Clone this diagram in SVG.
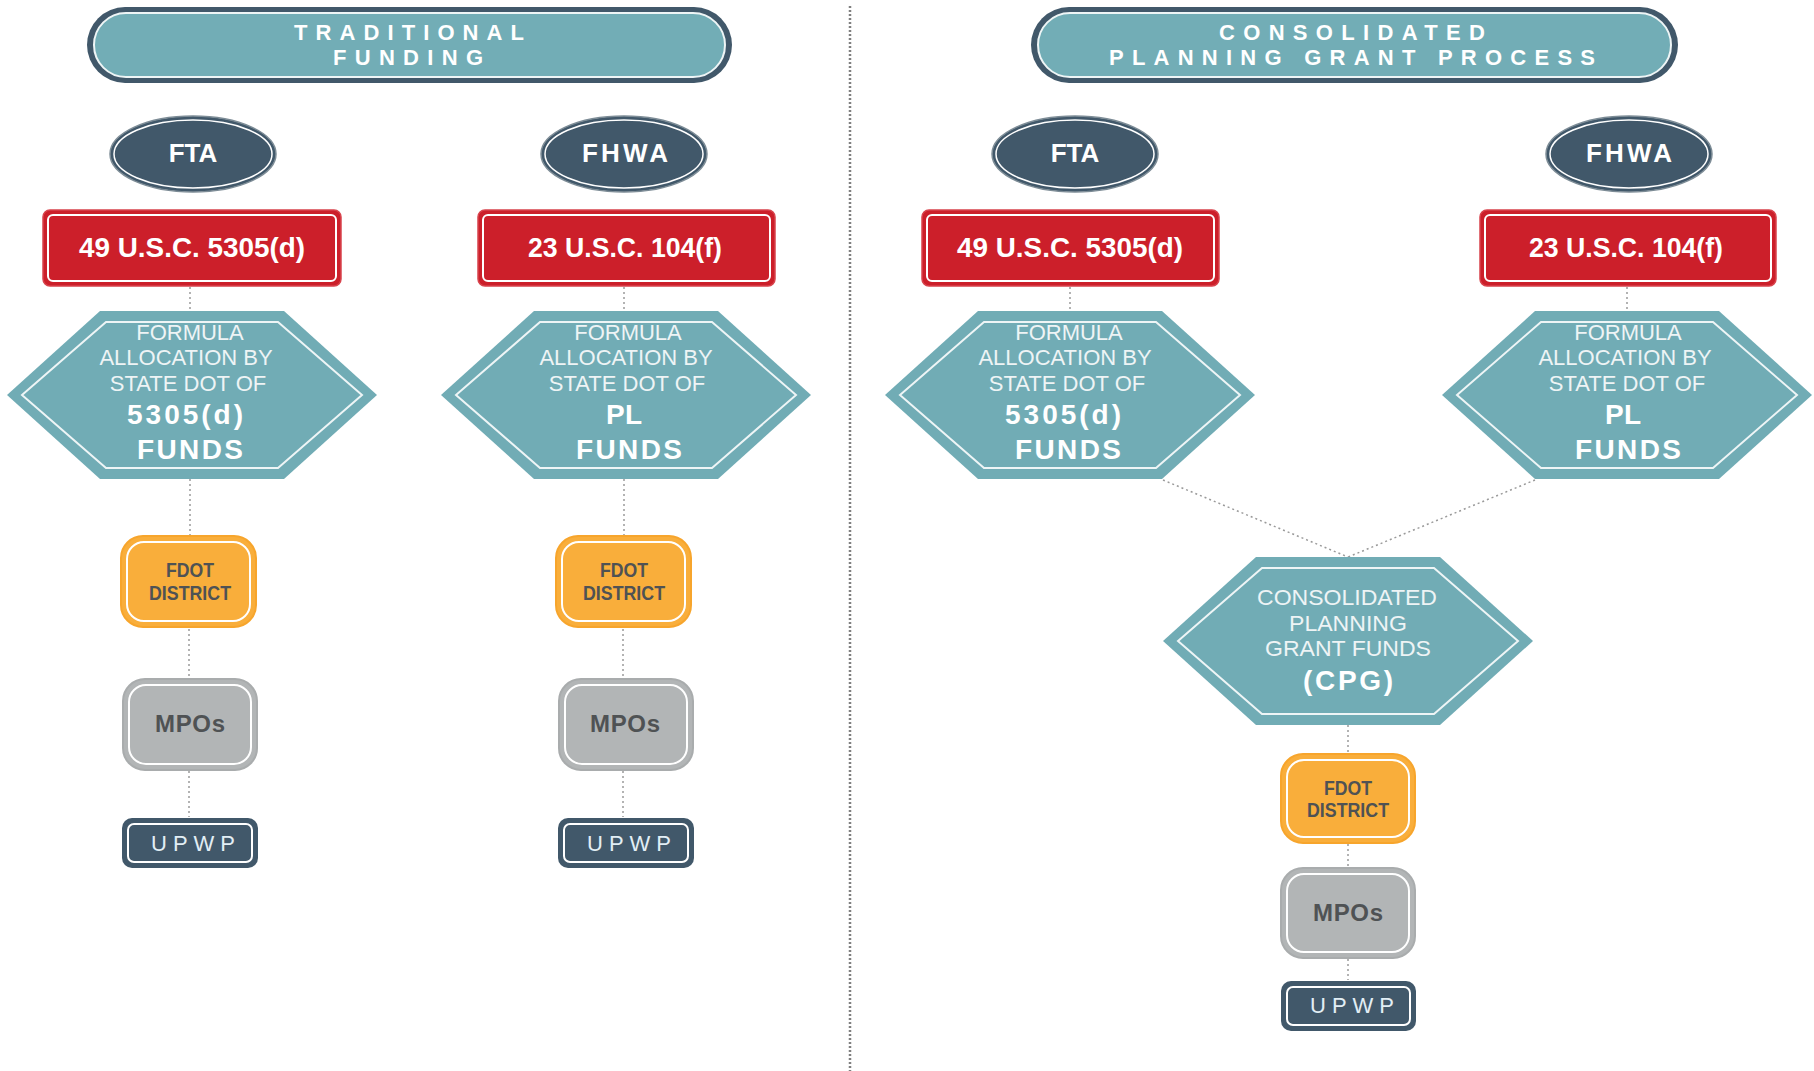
<svg xmlns="http://www.w3.org/2000/svg" xmlns:xlink="http://www.w3.org/1999/xlink" width="1814" height="1071" viewBox="0 0 1814 1071">
<style>
.bnO{fill:#41586a}
.bnI{fill:#72adb6;stroke:#eef5f6;stroke-width:2}
.bnT{font-family:"Liberation Sans",Arial,sans-serif;font-weight:bold;font-size:22px;fill:#ffffff;text-anchor:middle}
.ellO{fill:#41586a;stroke:#7d8c96;stroke-width:1.5}
.ellI{fill:none;stroke:#ffffff;stroke-width:1.5}
.ellT{font-family:"Liberation Sans",Arial,sans-serif;font-weight:bold;font-size:26px;fill:#ffffff;text-anchor:middle}
.redO{fill:#cc1f2a;stroke:#d8434c;stroke-width:1.5}
.redI{fill:none;stroke:#ffffff;stroke-width:2}
.redT{font-family:"Liberation Sans",Arial,sans-serif;font-weight:bold;font-size:27px;fill:#ffffff;text-anchor:middle}
.hexO{fill:#71acb5}
.hexI{fill:none;stroke:#eef5f6;stroke-width:2}
.hexT{font-family:"Liberation Sans",Arial,sans-serif;font-size:22px;fill:#eef4f5;text-anchor:middle}
.hexB{font-family:"Liberation Sans",Arial,sans-serif;font-weight:bold;font-size:28px;fill:#ffffff;text-anchor:middle}
.orO{fill:#f9ae3b;stroke:#f7a52c;stroke-width:2}
.orI{fill:none;stroke:#ffffff;stroke-width:2}
.orT{font-family:"Liberation Sans",Arial,sans-serif;font-weight:bold;font-size:21px;fill:#4f5254;text-anchor:middle}
.gyO{fill:#b2b5b6;stroke:#a9acad;stroke-width:2}
.gyI{fill:none;stroke:#ffffff;stroke-width:2}
.gyT{font-family:"Liberation Sans",Arial,sans-serif;font-weight:bold;font-size:24px;fill:#4f5254;text-anchor:middle}
.upO{fill:#41586a}
.upI{fill:none;stroke:#ffffff;stroke-width:2}
.upT{font-family:"Liberation Sans",Arial,sans-serif;font-size:22px;fill:#e2eef5;text-anchor:middle}
.con{stroke:#9a9a9a;stroke-width:1.5;stroke-dasharray:2 3;fill:none}
.div{stroke:#808080;stroke-width:2.5;stroke-dasharray:2 2;fill:none}
</style>
<defs>
<polygon id="hexOuter" points="-185,0 -92,-84 92,-84 185,0 92,84 -92,84"/>
<polygon id="hexInner" points="-170,0 -86,-73 86,-73 170,0 86,73 -86,73"/>
</defs>
<rect width="1814" height="1071" fill="#ffffff"/>

<g id="connectors">
<line class="div" x1="850" y1="6" x2="850" y2="1071"/>
<line class="con" x1="190" y1="287" x2="190" y2="311"/>
<line class="con" x1="190" y1="479" x2="190" y2="536"/>
<line class="con" x1="189" y1="629" x2="189" y2="678"/>
<line class="con" x1="189" y1="771" x2="189" y2="817"/>
<line class="con" x1="624" y1="287" x2="624" y2="311"/>
<line class="con" x1="624" y1="479" x2="624" y2="536"/>
<line class="con" x1="623" y1="629" x2="623" y2="678"/>
<line class="con" x1="623" y1="771" x2="623" y2="817"/>
<line class="con" x1="1070" y1="287" x2="1070" y2="311"/>
<line class="con" x1="1627" y1="287" x2="1627" y2="311"/>
<line class="con" x1="1163" y1="480" x2="1348" y2="557"/>
<line class="con" x1="1535" y1="480" x2="1348" y2="557"/>
<line class="con" x1="1348" y1="725" x2="1348" y2="753"/>
<line class="con" x1="1348" y1="844" x2="1348" y2="867"/>
<line class="con" x1="1348" y1="959" x2="1348" y2="980"/>
</g>

<g id="banner-traditional">
<rect class="bnO" x="87" y="7" width="645" height="76" rx="38"/>
<rect class="bnI" x="94" y="13" width="631" height="64" rx="32"/>
<text class="bnT" x="409" y="40" textLength="230" lengthAdjust="spacing">TRADITIONAL</text>
<text class="bnT" x="408" y="65" textLength="150" lengthAdjust="spacing">FUNDING</text>
</g>

<g id="banner-cpg">
<rect class="bnO" x="1031" y="7" width="647" height="76" rx="38"/>
<rect class="bnI" x="1038" y="13" width="633" height="64" rx="32"/>
<text class="bnT" x="1352" y="40" textLength="266" lengthAdjust="spacing">CONSOLIDATED</text>
<text class="bnT" x="1352" y="65" textLength="486" lengthAdjust="spacing">PLANNING GRANT PROCESS</text>
</g>

<!-- Column 1 -->
<g id="fta-1">
<ellipse class="ellO" cx="193" cy="154" rx="83" ry="38"/>
<ellipse class="ellI" cx="193" cy="154" rx="79" ry="34"/>
<text class="ellT" x="193" y="162">FTA</text>
</g>
<g id="law-1">
<rect class="redO" x="43" y="210" width="298" height="76" rx="7"/>
<rect class="redI" x="48" y="215" width="288" height="66" rx="5"/>
<text class="redT" x="192" y="257" textLength="226" lengthAdjust="spacingAndGlyphs">49 U.S.C. 5305(d)</text>
</g>
<g id="formula-1">
<use href="#hexOuter" class="hexO" transform="translate(192,395)"/>
<use href="#hexInner" class="hexI" transform="translate(192,395)"/>
<text class="hexT" x="190" y="340">FORMULA</text>
<text class="hexT" x="186" y="365">ALLOCATION BY</text>
<text class="hexT" x="188" y="391">STATE DOT OF</text>
<text class="hexB" x="185" y="424" textLength="116" lengthAdjust="spacing">5305(d)</text>
<text class="hexB" x="190" y="459" textLength="106" lengthAdjust="spacing">FUNDS</text>
</g>
<g id="fdot-1">
<rect class="orO" x="121" y="536" width="135" height="91" rx="22"/>
<rect class="orI" x="127" y="542" width="123" height="79" rx="17"/>
<text class="orT" x="190" y="577" textLength="48" lengthAdjust="spacingAndGlyphs">FDOT</text>
<text class="orT" x="190" y="600" textLength="82" lengthAdjust="spacingAndGlyphs">DISTRICT</text>
</g>
<g id="mpos-1">
<rect class="gyO" x="123" y="679" width="134" height="91" rx="22"/>
<rect class="gyI" x="129" y="685" width="122" height="79" rx="17"/>
<text class="gyT" x="190" y="732" textLength="70" lengthAdjust="spacing">MPOs</text>
</g>
<g id="upwp-1">
<rect class="upO" x="122" y="818" width="136" height="50" rx="10"/>
<rect class="upI" x="128" y="824" width="124" height="38" rx="6"/>
<text class="upT" x="193" y="851" textLength="84" lengthAdjust="spacing">UPWP</text>
</g>

<!-- Column 2 -->
<g id="fhwa-1">
<ellipse class="ellO" cx="624" cy="154" rx="83" ry="38"/>
<ellipse class="ellI" cx="624" cy="154" rx="79" ry="34"/>
<text class="ellT" x="625" y="162" textLength="86" lengthAdjust="spacing">FHWA</text>
</g>
<g id="law-2">
<rect class="redO" x="478" y="210" width="297" height="76" rx="7"/>
<rect class="redI" x="483" y="215" width="287" height="66" rx="5"/>
<text class="redT" x="625" y="257" textLength="194" lengthAdjust="spacingAndGlyphs">23 U.S.C. 104(f)</text>
</g>
<g id="formula-2">
<use href="#hexOuter" class="hexO" transform="translate(626,395)"/>
<use href="#hexInner" class="hexI" transform="translate(626,395)"/>
<text class="hexT" x="628" y="340">FORMULA</text>
<text class="hexT" x="626" y="365">ALLOCATION BY</text>
<text class="hexT" x="627" y="391">STATE DOT OF</text>
<text class="hexB" x="624" y="424" textLength="36" lengthAdjust="spacing">PL</text>
<text class="hexB" x="629" y="459" textLength="106" lengthAdjust="spacing">FUNDS</text>
</g>
<g id="fdot-2">
<rect class="orO" x="556" y="536" width="135" height="91" rx="22"/>
<rect class="orI" x="562" y="542" width="123" height="79" rx="17"/>
<text class="orT" x="624" y="577" textLength="48" lengthAdjust="spacingAndGlyphs">FDOT</text>
<text class="orT" x="624" y="600" textLength="82" lengthAdjust="spacingAndGlyphs">DISTRICT</text>
</g>
<g id="mpos-2">
<rect class="gyO" x="559" y="679" width="134" height="91" rx="22"/>
<rect class="gyI" x="565" y="685" width="122" height="79" rx="17"/>
<text class="gyT" x="625" y="732" textLength="70" lengthAdjust="spacing">MPOs</text>
</g>
<g id="upwp-2">
<rect class="upO" x="558" y="818" width="136" height="50" rx="10"/>
<rect class="upI" x="564" y="824" width="124" height="38" rx="6"/>
<text class="upT" x="629" y="851" textLength="84" lengthAdjust="spacing">UPWP</text>
</g>

<!-- Column 3 -->
<g id="fta-2">
<ellipse class="ellO" cx="1075" cy="154" rx="83" ry="38"/>
<ellipse class="ellI" cx="1075" cy="154" rx="79" ry="34"/>
<text class="ellT" x="1075" y="162">FTA</text>
</g>
<g id="law-3">
<rect class="redO" x="922" y="210" width="297" height="76" rx="7"/>
<rect class="redI" x="927" y="215" width="287" height="66" rx="5"/>
<text class="redT" x="1070" y="257" textLength="226" lengthAdjust="spacingAndGlyphs">49 U.S.C. 5305(d)</text>
</g>
<g id="formula-3">
<use href="#hexOuter" class="hexO" transform="translate(1070,395)"/>
<use href="#hexInner" class="hexI" transform="translate(1070,395)"/>
<text class="hexT" x="1069" y="340">FORMULA</text>
<text class="hexT" x="1065" y="365">ALLOCATION BY</text>
<text class="hexT" x="1067" y="391">STATE DOT OF</text>
<text class="hexB" x="1063" y="424" textLength="116" lengthAdjust="spacing">5305(d)</text>
<text class="hexB" x="1068" y="459" textLength="106" lengthAdjust="spacing">FUNDS</text>
</g>

<!-- Column 4 -->
<g id="fhwa-2">
<ellipse class="ellO" cx="1629" cy="154" rx="83" ry="38"/>
<ellipse class="ellI" cx="1629" cy="154" rx="79" ry="34"/>
<text class="ellT" x="1629" y="162" textLength="86" lengthAdjust="spacing">FHWA</text>
</g>
<g id="law-4">
<rect class="redO" x="1480" y="210" width="296" height="76" rx="7"/>
<rect class="redI" x="1485" y="215" width="286" height="66" rx="5"/>
<text class="redT" x="1626" y="257" textLength="194" lengthAdjust="spacingAndGlyphs">23 U.S.C. 104(f)</text>
</g>
<g id="formula-4">
<use href="#hexOuter" class="hexO" transform="translate(1627,395)"/>
<use href="#hexInner" class="hexI" transform="translate(1627,395)"/>
<text class="hexT" x="1628" y="340">FORMULA</text>
<text class="hexT" x="1625" y="365">ALLOCATION BY</text>
<text class="hexT" x="1627" y="391">STATE DOT OF</text>
<text class="hexB" x="1623" y="424" textLength="36" lengthAdjust="spacing">PL</text>
<text class="hexB" x="1628" y="459" textLength="106" lengthAdjust="spacing">FUNDS</text>
</g>

<!-- CPG chain -->
<g id="cpg">
<use href="#hexOuter" class="hexO" transform="translate(1348,641)"/>
<use href="#hexInner" class="hexI" transform="translate(1348,641)"/>
<text class="hexT" x="1347" y="605" textLength="180" lengthAdjust="spacingAndGlyphs">CONSOLIDATED</text>
<text class="hexT" x="1348" y="631" textLength="118" lengthAdjust="spacingAndGlyphs">PLANNING</text>
<text class="hexT" x="1348" y="656" textLength="166" lengthAdjust="spacingAndGlyphs">GRANT FUNDS</text>
<text class="hexB" x="1348" y="690" textLength="90" lengthAdjust="spacing">(CPG)</text>
</g>
<g id="fdot-3">
<rect class="orO" x="1281" y="754" width="134" height="89" rx="22"/>
<rect class="orI" x="1287" y="760" width="122" height="77" rx="17"/>
<text class="orT" x="1348" y="795" textLength="48" lengthAdjust="spacingAndGlyphs">FDOT</text>
<text class="orT" x="1348" y="817" textLength="82" lengthAdjust="spacingAndGlyphs">DISTRICT</text>
</g>
<g id="mpos-3">
<rect class="gyO" x="1281" y="868" width="134" height="90" rx="22"/>
<rect class="gyI" x="1287" y="874" width="122" height="78" rx="17"/>
<text class="gyT" x="1348" y="921" textLength="70" lengthAdjust="spacing">MPOs</text>
</g>
<g id="upwp-3">
<rect class="upO" x="1281" y="981" width="135" height="50" rx="10"/>
<rect class="upI" x="1287" y="987" width="123" height="38" rx="6"/>
<text class="upT" x="1352" y="1013" textLength="84" lengthAdjust="spacing">UPWP</text>
</g>
</svg>
